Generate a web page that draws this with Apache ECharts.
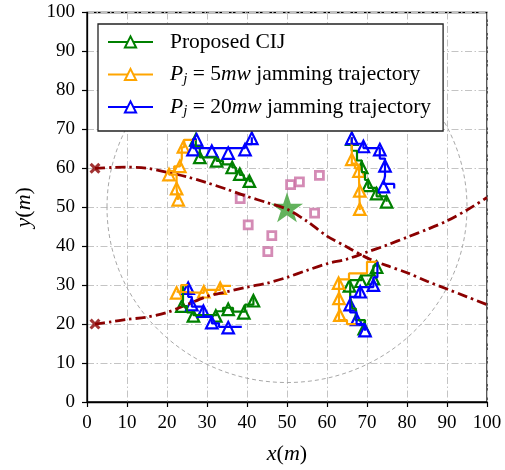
<!DOCTYPE html>
<html><head><meta charset="utf-8">
<script src="https://cdn.jsdelivr.net/npm/echarts@6/dist/echarts.min.js"></script>
<style>html,body{margin:0;padding:0;background:#fff}#c{width:505px;height:470px}</style>
</head><body><div id="c"></div>
<script>
// ---------- data ----------
const axisMin = 0, axisMax = 100, axisStep = 10;

// initial (unjammed) trajectories of the two intruders
const jamStarts = [[2,60],[2,20]];
const trajA = [[2,60],[6,60.2],[10,60.3],[15,60],[20,59],[25,57.8],[30,56.3],[35,54.6],[40,52.8],[45,51.2],[50,49.5],[55,46.4],[60,42.6],[65,39.8],[70,37],[75,35],[80,33.2],[85,31],[90,29],[95,27],[100,25]];
const trajB = [[2,20],[6,20.6],[10,21.2],[15,21.8],[20,23],[25,25],[30,27.1],[35,28.3],[40,29.5],[45,30.5],[50,32],[55,33.8],[60,35.5],[65,36.7],[70,38.5],[75,40.3],[80,42.3],[85,44.3],[90,46.5],[95,49.3],[100,52.5]];

// protected target, nodes and coverage circle [cx, cy, r]
const targetPoint = [[50,50]];
const nodePoints = [[38.3,52.2],[40.3,45.5],[46.2,42.7],[45.2,38.6],[50.9,55.8],[53.1,56.5],[58.1,58.2],[56.9,48.5]];
const coverageCircle = [[50,50,45]];

// Proposed CIJ (green)
const cijPathTL = [[27.2,67.5],[27.2,65.5],[28.2,65.5],[28.2,62.8],[32.4,62.8],[32.4,61.9],[34,61.9],[34,61],[36.3,61],[36.3,60.2],[37.2,60.2],[37.2,59],[38.2,59],[38.2,58.3],[39.2,58.3],[39.2,57.3],[40.6,57.3],[40.6,56.7],[41.5,56.7]];
const cijMarkTL = [[27.2,67.3],[28.2,62.8],[32.4,61.9],[36.3,60.2],[38.2,58.5],[40.6,56.7]];
const cijPathTR = [[66.2,68],[66.2,64.5],[67.5,64.5],[67.5,62],[68.7,62],[68.7,59],[69.5,59],[69.5,57],[70.3,57],[70.3,55],[72.4,55],[72.4,52.8],[74.9,52.8],[74.9,51.4]];
const cijMarkTR = [[66.2,67.5],[68.7,60.2],[70.3,55.6],[72.4,53.5],[74.9,51.4]];
const cijPathBL = [[25.3,30],[24,30],[24,26],[23.7,26],[23.7,24.6],[25,24.6],[25,23],[26.6,23],[26.6,22.3],[32.4,22.3],[32.4,23.3],[34,23.3],[34,24.2],[36.5,24.2],[36.5,23.2],[39.5,23.2],[39.5,25],[41.6,25],[41.6,26.8]];
const cijMarkBL = [[23.7,24.6],[26.6,22.1],[32.2,22.1],[35.3,23.8],[39.2,22.9],[41.6,26]];
const cijPathBR = [[72.6,36],[72.6,35],[71.6,35],[71.6,32.5],[68.7,32.5],[68.7,31.3],[65.8,31.3],[65.8,27],[66.3,27],[66.3,24],[67.2,24],[67.2,21],[69.5,21],[69.5,18.8]];
const cijMarkBR = [[72.4,34.6],[71.6,31.7],[68.5,31],[65.6,29.8],[69.3,18.8]];

// Pj = 5 mW (orange)
const p5PathTL = [[27.2,67.3],[24.3,67.3],[24.3,65.4],[23.7,65.4],[23.7,62.5],[23.2,62.5],[23.2,60.5],[21.8,60.5],[21.8,59.3],[20.5,59.3],[20.5,58.4],[22.4,58.4],[22.4,54.8],[22.8,54.8],[22.8,51.9]];
const p5MarkTL = [[24.1,65.5],[23.2,60.5],[20.5,58.4],[22.4,54.8],[22.8,51.9]];
const p5PathTR = [[66.2,68],[66.2,61.2],[67,61.2],[67,60],[68,60],[68,57.5],[68.2,57.5],[68.2,49.3]];
const p5MarkTR = [[66.2,62.3],[68,59.3],[68.2,54.2],[68.2,49.5]];
const p5PathBL = [[25.3,30],[23.5,30],[23.5,28.3],[22.4,28.3],[22.4,28],[29.2,28],[29.2,28.8],[33.3,28.8],[33.3,29.8],[36,29.8]];
const p5MarkBL = [[22.4,28],[29.2,28.3],[33.3,29.2]];
const p5PathBR = [[72.6,36],[70,36],[70,33],[65.5,33],[65.5,31.5],[63,31.5],[63,21],[65,21],[65,20],[68,20]];
const p5MarkBR = [[62.9,30.5],[63,26.6],[63.2,22.3]];

// Pj = 20 mW (blue)
const p20PathTL = [[27.4,67.5],[26.5,67.5],[26.5,65.2],[39.5,65.2],[39.5,66.2],[41.2,66.2],[41.2,68]];
const p20MarkTL = [[27.4,67.3],[26.5,64.8],[31.2,64.4],[35.3,63.9],[39.5,64.8],[41.2,67.7]];
const p20PathTR = [[66.2,68],[66.2,66.3],[69.1,66.3],[69.1,65.2],[73.2,65.2],[73.2,62.5],[74.5,62.5],[74.5,58],[74.1,58],[74.1,56],[76.8,56],[76.8,54.8]];
const p20MarkTR = [[66.2,67.7],[69.1,65.6],[73.2,64.8],[74.5,60.6],[74.1,55.3]];
const p20PathBL = [[25.3,30],[25.3,27],[26.2,27],[26.2,24.5],[29.1,24.5],[29.1,22],[31.2,22],[31.2,20.2],[33,20.2],[33,19.3],[38.7,19.3]];
const p20MarkBL = [[25.3,29.2],[26.2,25],[29.1,23.3],[31.2,20.4],[35.3,19.1]];
const p20PathBR = [[72.6,36],[72.6,32],[71.6,32],[71.6,29.5],[68.3,29.5],[68.3,27],[65.8,27],[65.8,23],[67.4,23],[67.4,20],[69.5,20],[69.5,18.3]];
const p20MarkBR = [[71.6,30],[68.3,28.3],[65.8,25],[67.4,21.2],[69.5,18.3]];

const legendNames = ['Proposed CIJ', 'P5', 'P20'];

// ---------- chart ----------
const FONT = "'Liberation Serif','Times New Roman',serif";
const chart = echarts.init(document.getElementById('c'), null, {renderer:'canvas'});

function traj(name, color, paths, marks) {
  const out = [];
  paths.forEach(p => out.push({
    type:'line', name, data:p, symbol:'emptyTriangle', symbolSize:12, showSymbol:false,
    lineStyle:{color, width:2.2}, itemStyle:{color, borderWidth:2}, silent:true
  }));
  out.push({
    type:'scatter', name, data:[].concat(...marks), symbol:'triangle', symbolSize:11.5,
    itemStyle:{color:'#fff', borderColor:color, borderWidth:2.2, opacity:1}, silent:true
  });
  return out;
}

const dashDot = [10,4,2.5,4];
const gridDash = [7,2.5,1.5,2.5];

const series = [
  {
    type:'custom', data:coverageCircle, silent:true,
    renderItem:(params, api) => {
      const c = api.coord([api.value(0), api.value(1)]);
      const s = api.size([api.value(2), api.value(2)]);
      return {type:'ellipse', shape:{cx:c[0], cy:c[1], rx:s[0], ry:s[1]},
        style:{fill:'none', stroke:'#a8a8a8', lineWidth:1, lineDash:[4,3]}};
    }
  },
  {type:'scatter', data:nodePoints, symbol:'rect', symbolSize:8,
   itemStyle:{color:'#fff', borderColor:'#c96ea3', borderWidth:2.8}, silent:true},
  {type:'scatter', data:targetPoint, symbol:'path://M50,0 L61.2,34.5 L97.6,34.5 L68.2,55.9 L79.4,90.5 L50,69.1 L20.6,90.5 L31.8,55.9 L2.4,34.5 L38.8,34.5 Z',
   symbolSize:[32,30], itemStyle:{color:'#55ab4e', opacity:0.92}, silent:true},
  {type:'line', data:trajA, smooth:0.3, showSymbol:false, symbol:'none', lineStyle:{color:'#8b0000', width:2.8, type:dashDot}, silent:true},
  {type:'line', data:trajB, smooth:0.3, showSymbol:false, symbol:'none', lineStyle:{color:'#8b0000', width:2.8, type:dashDot}, silent:true},
  {type:'scatter', data:jamStarts, symbol:'path://M2,0 L5,3 L8,0 L10,2 L7,5 L10,8 L8,10 L5,7 L2,10 L0,8 L3,5 L0,2 Z',
   symbolSize:11, itemStyle:{color:'#8b0000'}, silent:true},
  ...traj(legendNames[0], '#008000', [cijPathTL,cijPathTR,cijPathBL,cijPathBR], [cijMarkTL,cijMarkTR,cijMarkBL,cijMarkBR]),
  ...traj(legendNames[1], '#ffa500', [p5PathTL,p5PathTR,p5PathBL,p5PathBR], [p5MarkTL,p5MarkTR,p5MarkBL,p5MarkBR]),
  ...traj(legendNames[2], '#0000ff', [p20PathTL,p20PathTR,p20PathBL,p20PathBR], [p20MarkTL,p20MarkTR,p20MarkBL,p20MarkBR])
];

function axisCommon(nameRich) {
  return {
    type:'value', min:axisMin, max:axisMax, interval:axisStep,
    name:nameRich, nameLocation:'middle',
    nameTextStyle:{fontFamily:FONT, fontSize:22, color:'#000',
      rich:{i:{fontFamily:FONT, fontSize:22, fontStyle:'italic', color:'#000'}, n:{fontFamily:FONT, fontSize:22, color:'#000'}}},
    axisLine:{show:true, onZero:false, lineStyle:{color:'#000', width:1.3}},
    axisTick:{show:true, length:5, lineStyle:{color:'#000', width:1.2}},
    axisLabel:{fontFamily:FONT, fontSize:19, color:'#000', margin:12},
    splitLine:{show:true, lineStyle:{color:'#c4c4c4', width:1, type:gridDash}}
  };
}

const xAxis = Object.assign(axisCommon('{i|x}{n|(}{i|m}{n|)}'), {nameGap:41});
const yAxis = Object.assign(axisCommon('{i|y}{n|(}{i|m}{n|)}'), {nameGap:45, nameRotate:90});

const legendText = {
  'Proposed CIJ': 'Proposed CIJ',
  'P5': '{i|P}{s|j}{n| = 5}{i|mw}{n| jamming trajectory}',
  'P20': '{i|P}{s|j}{n| = 20}{i|mw}{n| jamming trajectory}'
};

chart.setOption({
  animation:false,
  backgroundColor:'#fff',
  grid:{left:87, right:18, top:12.5, bottom:59.5, show:true, borderColor:'#000', borderWidth:1.3, backgroundColor:'transparent'},
  xAxis, yAxis,
  legend:{
    data:legendNames, orient:'vertical', left:98, top:24,
    padding:[6,12,12,9], itemGap:8.5, itemWidth:45, itemHeight:14,
    backgroundColor:'#fff', borderColor:'#222', borderWidth:1.3, borderRadius:0,
    selectedMode:false,
    formatter:n => legendText[n],
    textStyle:{fontFamily:FONT, fontSize:21.5, color:'#000', lineHeight:24, padding:[0,0,0,12],
      rich:{
        i:{fontFamily:FONT, fontSize:21.5, fontStyle:'italic', color:'#000', lineHeight:24},
        n:{fontFamily:FONT, fontSize:21.5, color:'#000', lineHeight:24},
        s:{fontFamily:FONT, fontSize:15, fontStyle:'italic', color:'#000', lineHeight:12, verticalAlign:'bottom'}
      }}
  },
  series
});
</script></body></html>
